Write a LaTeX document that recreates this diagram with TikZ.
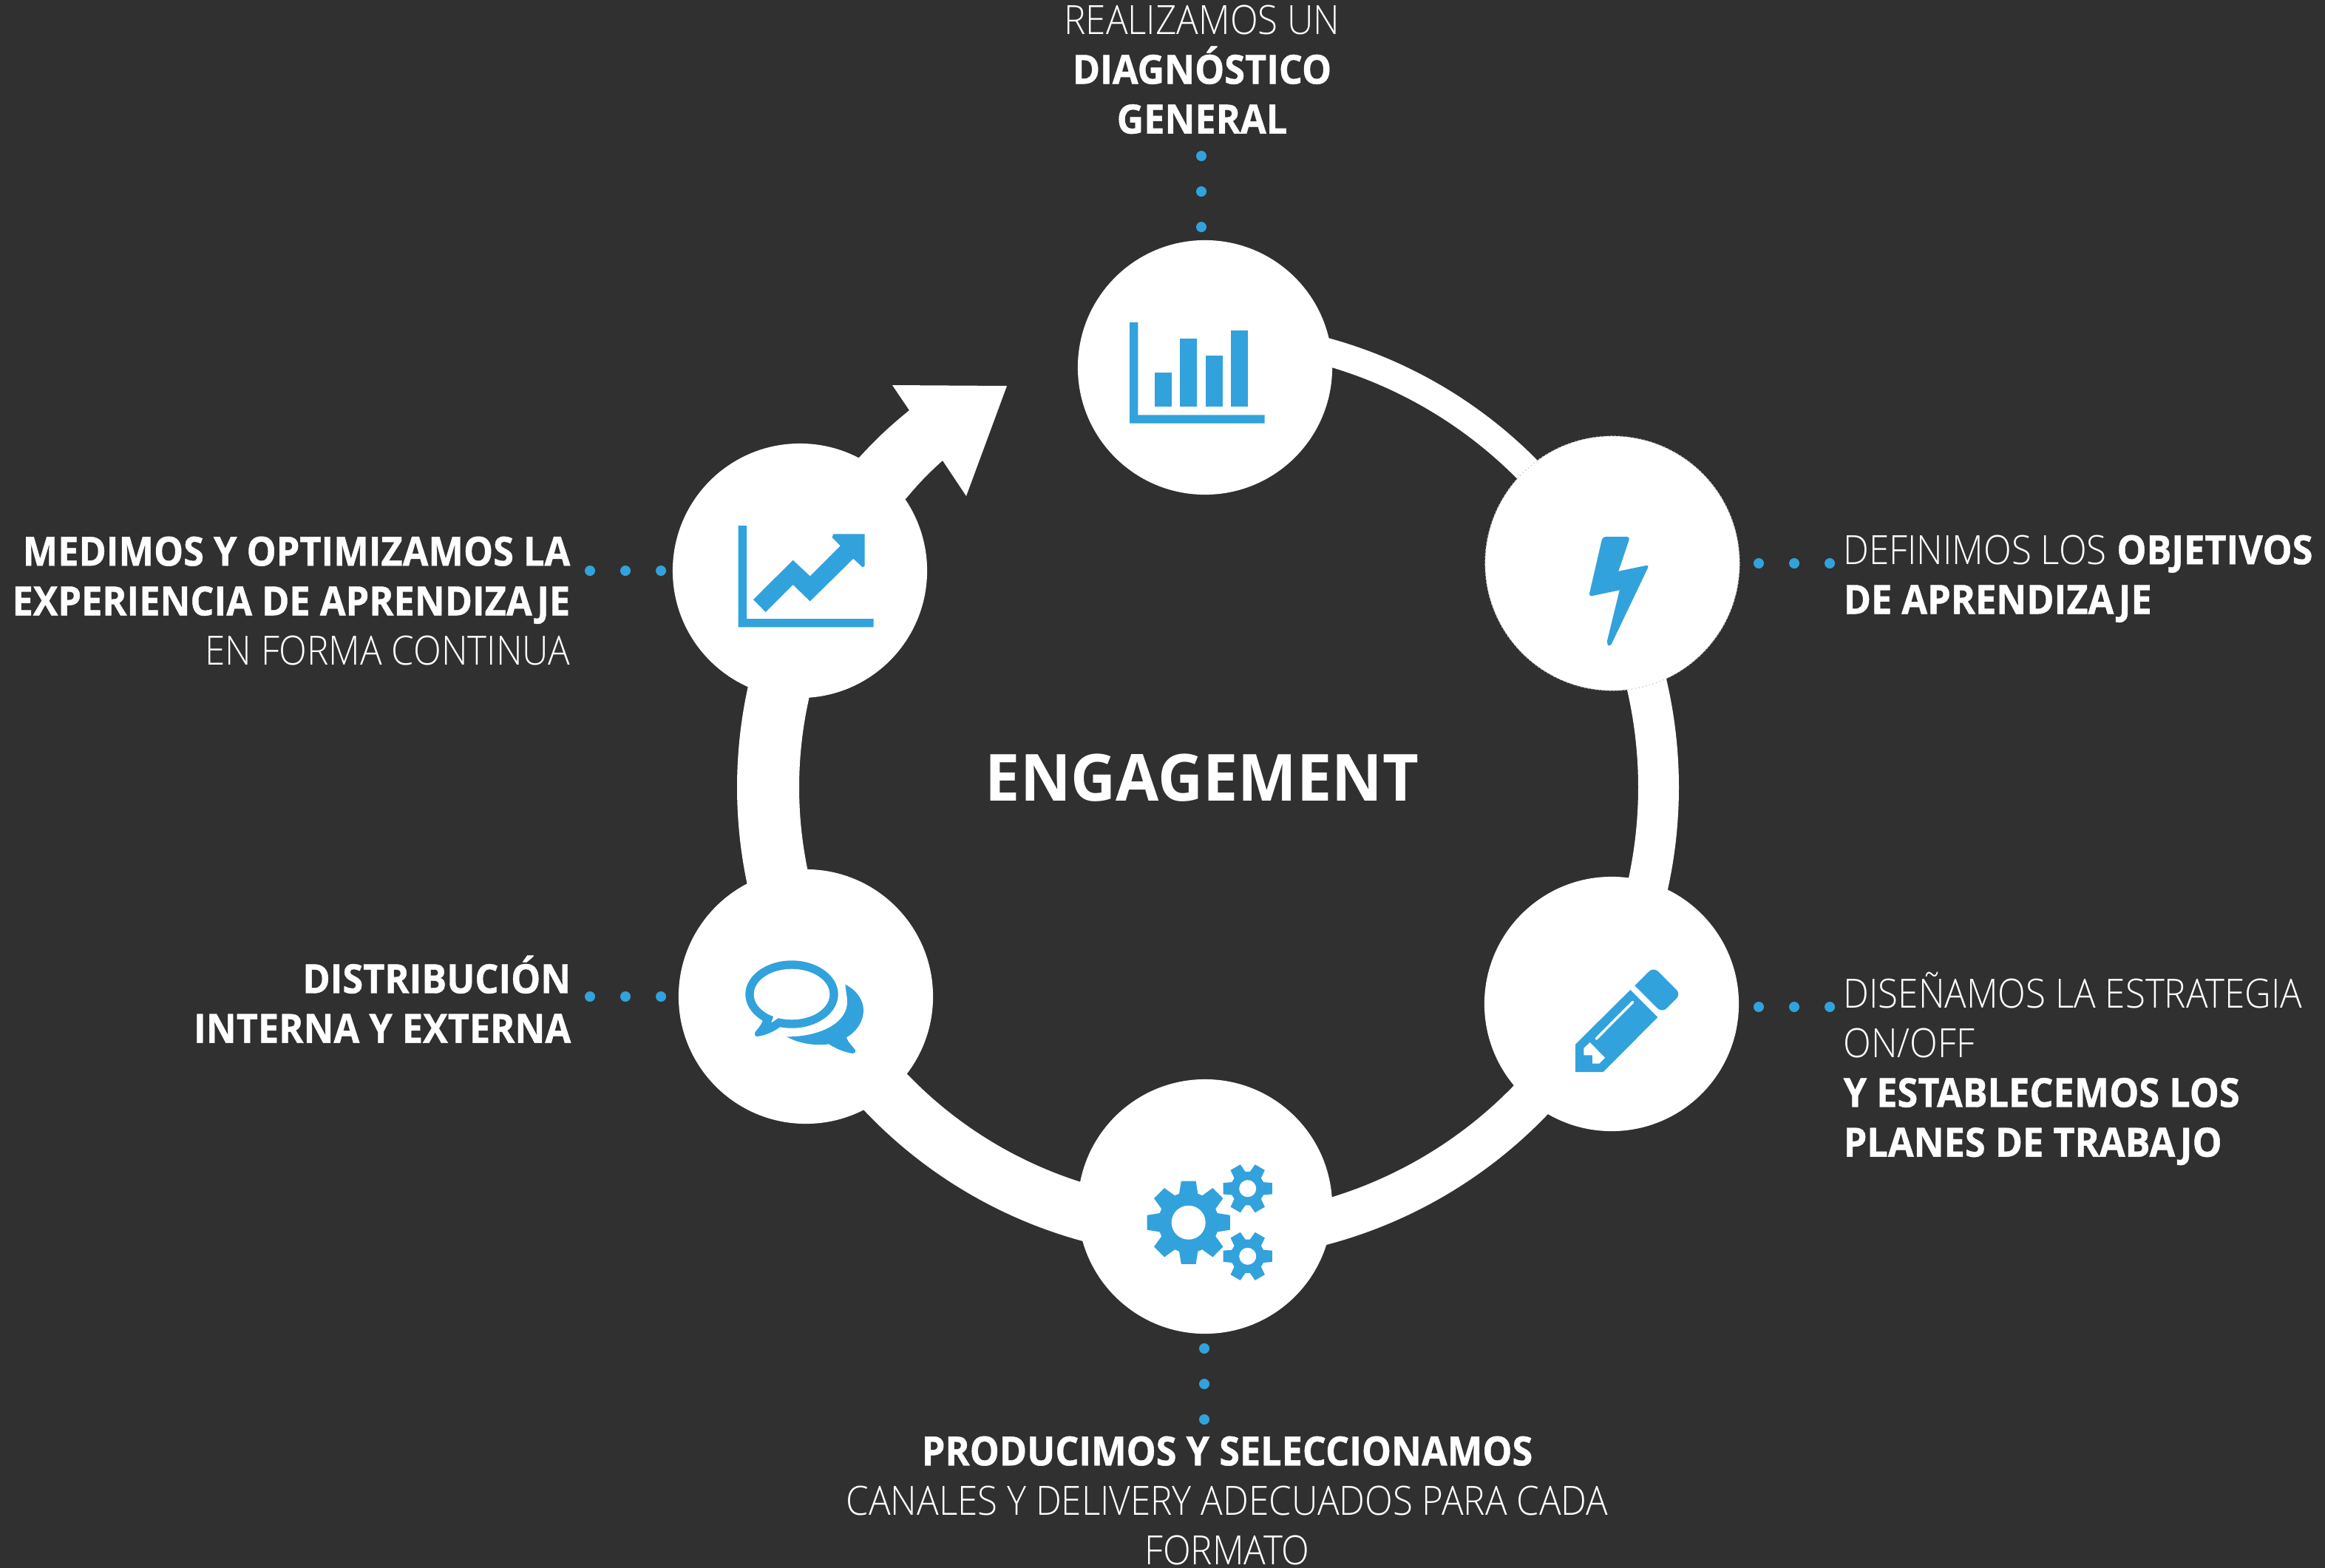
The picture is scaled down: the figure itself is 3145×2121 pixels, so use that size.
\documentclass[tikz,border=0pt]{standalone}
\usepackage{fontspec}
\setmainfont{Open Sans}[FakeStretch=0.96]
\newfontfamily\lightfont{Open Sans Light}[FakeStretch=0.905]
\newfontfamily\heavyfont{Open Sans}[FakeStretch=0.925, BoldFeatures={FakeBold=0.8}]
\definecolor{fondo}{HTML}{303030}
\definecolor{azul}{HTML}{32A2DC}
\tikzset{
  etapa/.style={circle, fill=white, minimum size=3.44cm, inner sep=0pt},
  puntos/.style={draw=azul, line width=0.14cm, line cap=round, dash pattern=on 0pt off 0.48cm},
  texto/.style={text=white, inner sep=0pt, font=\fontsize{15.5}{19.1}\selectfont},
  icono/.style={fill=azul},
  hueco/.style={fill=white}
}
\newcommand{\ligera}[1]{{\lightfont #1}}
\newcommand{\negra}[1]{{\heavyfont\bfseries #1}}
\newcommand{\engranaje}[8]{%
  \fill[icono, even odd rule, shift={(#1,#2)}, rotate=0]
    (#4-#7:#5)
    \foreach \a in {1,...,#3} {
      -- ({#4+(\a-1)*360/#3-#7}:#5) -- ({#4+(\a-1)*360/#3-#8}:#6)
      -- ({#4+(\a-1)*360/#3+#8}:#6) -- ({#4+(\a-1)*360/#3+#7}:#5)
    } -- cycle;
}
\begin{document}
\begin{tikzpicture}[x=0.01cm, y=0.01cm]
  \useasboundingbox (0,0) rectangle (3145,-2121);
  \fill[fondo] (0,0) rectangle (3145,-2121);

  \begin{scope}[shift={(1631,-1065)}]
    \foreach \ini/\fin/\rin/\rex in {80/30/593/630, 35/-35/585/640, -30/-80/580/640, -100/-150/560/636, 165/195/550/634}
      \fill[white] (\ini:\rex) arc (\ini:\fin:\rex) -- (\fin:\rin) arc (\fin:\ini:\rin) -- cycle;
  \end{scope}
  \fill[white] (1162,-619) to[bend left=4] (1230,-555) -- (1207,-521) -- (1362,-522)
    -- (1307,-671) -- (1275,-623) to[bend right=4] (1225,-675) -- (1130,-720) -- cycle;

  \node[etapa] (diag) at (1630,-497) {};
  \node[etapa, draw=black!20, densely dotted] (obj) at (2181,-762) {};
  \node[etapa] (estr) at (2180,-1358) {};
  \node[etapa] (prod) at (1630,-1632) {};
  \node[etapa] (dist) at (1090,-1348) {};
  \node[etapa] (med) at (1082,-772) {};

  \node[text=white, font=\fontsize{25}{30}\bfseries\selectfont] (titulo) at (1626,-1052) {ENGAGEMENT};

  \node[texto, anchor=north, align=center] (diagtxt) at (1626,-6) {\ligera{REALIZAMOS UN}\\\negra{DIAGNÓSTICO}\\\negra{GENERAL}};
  \node[texto, anchor=north west, align=left] (objtxt) at (2493,-723) {\ligera{DEFINIMOS LOS} \negra{OBJETIVOS}\\\negra{DE APRENDIZAJE}};
  \node[texto, anchor=north west, align=left] (estrtxt) at (2493,-1314) {\ligera{DISEÑAMOS LA ESTRATEGIA}\\\ligera{ON/OFF}\\\negra{Y ESTABLECEMOS LOS}\\\negra{PLANES DE TRABAJO}};
  \node[texto, anchor=north, align=center] (prodtxt) at (1660,-1942) {\negra{PRODUCIMOS Y SELECCIONAMOS}\\\ligera{CANALES Y DELIVERY ADECUADOS PARA CADA}\\\ligera{FORMATO}};
  \node[texto, anchor=north east, align=right] (disttxt) at (773,-1292) {\negra{DISTRIBUCIÓN}\\\negra{INTERNA Y EXTERNA}};
  \node[texto, anchor=north east, align=right] (medtxt) at (772,-725) {\negra{MEDIMOS Y OPTIMIZAMOS LA}\\\negra{EXPERIENCIA DE APRENDIZAJE}\\\ligera{EN FORMA CONTINUA}};

  \coordinate (d1a) at (1625,-211); \coordinate (d1b) at (1625,-310);
  \coordinate (d2a) at (2379,-762); \coordinate (d2b) at (2478,-762);
  \coordinate (d3a) at (2379,-1362); \coordinate (d3b) at (2478,-1362);
  \coordinate (d4a) at (1629,-1824); \coordinate (d4b) at (1629,-1923);
  \coordinate (d5a) at (798,-1348); \coordinate (d5b) at (897,-1348);
  \coordinate (d6a) at (798,-772); \coordinate (d6b) at (897,-772);
  \foreach \p in {1,...,6}
    \draw[puntos] (d\p a) -- (d\p b);

  % barras
  \fill[icono] (1528,-436) -- (1539.3,-436) -- (1539.3,-561.3) -- (1710.7,-561.3) -- (1710.7,-572.7) -- (1528,-572.7) -- cycle;
  \foreach \xa/\ya in {1562/504, 1596.3/458.3, 1630.7/481.3, 1665/447}
    \fill[icono] (\xa,-\ya) rectangle ++(23,{-(549.7-\ya)});

  % curva
  \fill[icono] (998.7,-711) -- (1010,-711) -- (1010,-837) -- (1181.7,-837) -- (1181.7,-848.3) -- (998.7,-848.3) -- cycle;
  \fill[icono] (1019,-811) -- (1072.7,-757.7) -- (1095.7,-779.3) -- (1136.7,-738.3) -- (1125.7,-727)
    -- (1127.3,-722.3) -- (1169.7,-722.3) -- (1169.7,-765.7) -- (1166.7,-767.3) -- (1154.3,-755.7)
    -- (1095.7,-813.3) -- (1072.7,-791) -- (1035.7,-828) -- cycle;

  % rayo
  \fill[icono, rounded corners=1.2pt] (2167.7,-726) -- (2205,-726) [sharp corners] -- (2189.3,-772.7) [rounded corners=1.2pt] -- (2231,-764)
    -- (2178,-875) -- (2173,-871) [sharp corners] -- (2190.7,-798.3) [rounded corners=1.2pt] -- (2149,-807) -- cycle;

  % lapiz
  \fill[icono] (2131,-1412.7) -- (2205.3,-1339) -- (2242.3,-1376) -- (2168.7,-1450) -- (2131,-1450) -- cycle;
  \fill[icono, rounded corners=2.4pt] (2211.3,-1333.3) [sharp corners] -- (2211.3,-1333.3) [rounded corners=2.4pt] -- (2236.7,-1308) -- (2273.7,-1344.7) -- (2248.3,-1370) [sharp corners] -- cycle;
  \draw[white, line width=0.035cm, line cap=round] (2159.3,-1405) -- (2208.7,-1355.3);
  \fill[hueco] (2142.3,-1418) -- (2150.7,-1410) -- (2171,-1430.7) -- (2163.3,-1438.7) -- (2154,-1438.7) -- (2154,-1427.3) -- (2142.3,-1427.3) -- cycle;

  % engranajes
  \engranaje{1607.7}{-1653.7}{8}{0}{41}{57}{18}{10}
  \fill[hueco] (1607.7,-1653.7) circle (23);
  \engranaje{1687.7}{-1607.7}{6}{0}{23}{34}{22}{13}
  \fill[hueco] (1687.7,-1607.7) circle (11.5);
  \engranaje{1687.7}{-1699.3}{6}{0}{23}{34}{22}{13}
  \fill[hueco] (1687.7,-1699.3) circle (11.5);

  % globos
  \fill[icono] (1071,-1345) ellipse (62.7 and 45.7);
  \fill[icono] (1031.7,-1375) -- (1031.7,-1380.7) .. controls (1028,-1391) and (1019,-1396) .. (1021,-1400)
    .. controls (1022,-1403) and (1025,-1402) .. (1027,-1401.5) .. controls (1037,-1400) and (1047,-1395) .. (1055,-1389.3) -- (1060,-1380) -- cycle;
  \fill[hueco] (1071,-1345) ellipse (51.3 and 34.3);
  \fill[hueco] (1046,-1375.7) -- (1043.3,-1383.3) -- (1052.7,-1377.3) -- (1050,-1370) -- cycle;
  \fill[icono] (1143.3,-1331.7) .. controls (1158,-1339) and (1168,-1352) .. (1168,-1366.7)
    .. controls (1168,-1382) and (1158,-1396) .. (1145,-1403.3) .. controls (1147,-1410) and (1153,-1415) .. (1156.7,-1420)
    .. controls (1158,-1423) and (1156,-1425) .. (1153.3,-1425) .. controls (1141,-1423) and (1130,-1418) .. (1121,-1412.3)
    .. controls (1100,-1415) and (1080,-1411) .. (1064,-1402.3) .. controls (1105,-1403) and (1153,-1385) .. (1145.3,-1346.7) -- cycle;
\end{tikzpicture}
\end{document}
